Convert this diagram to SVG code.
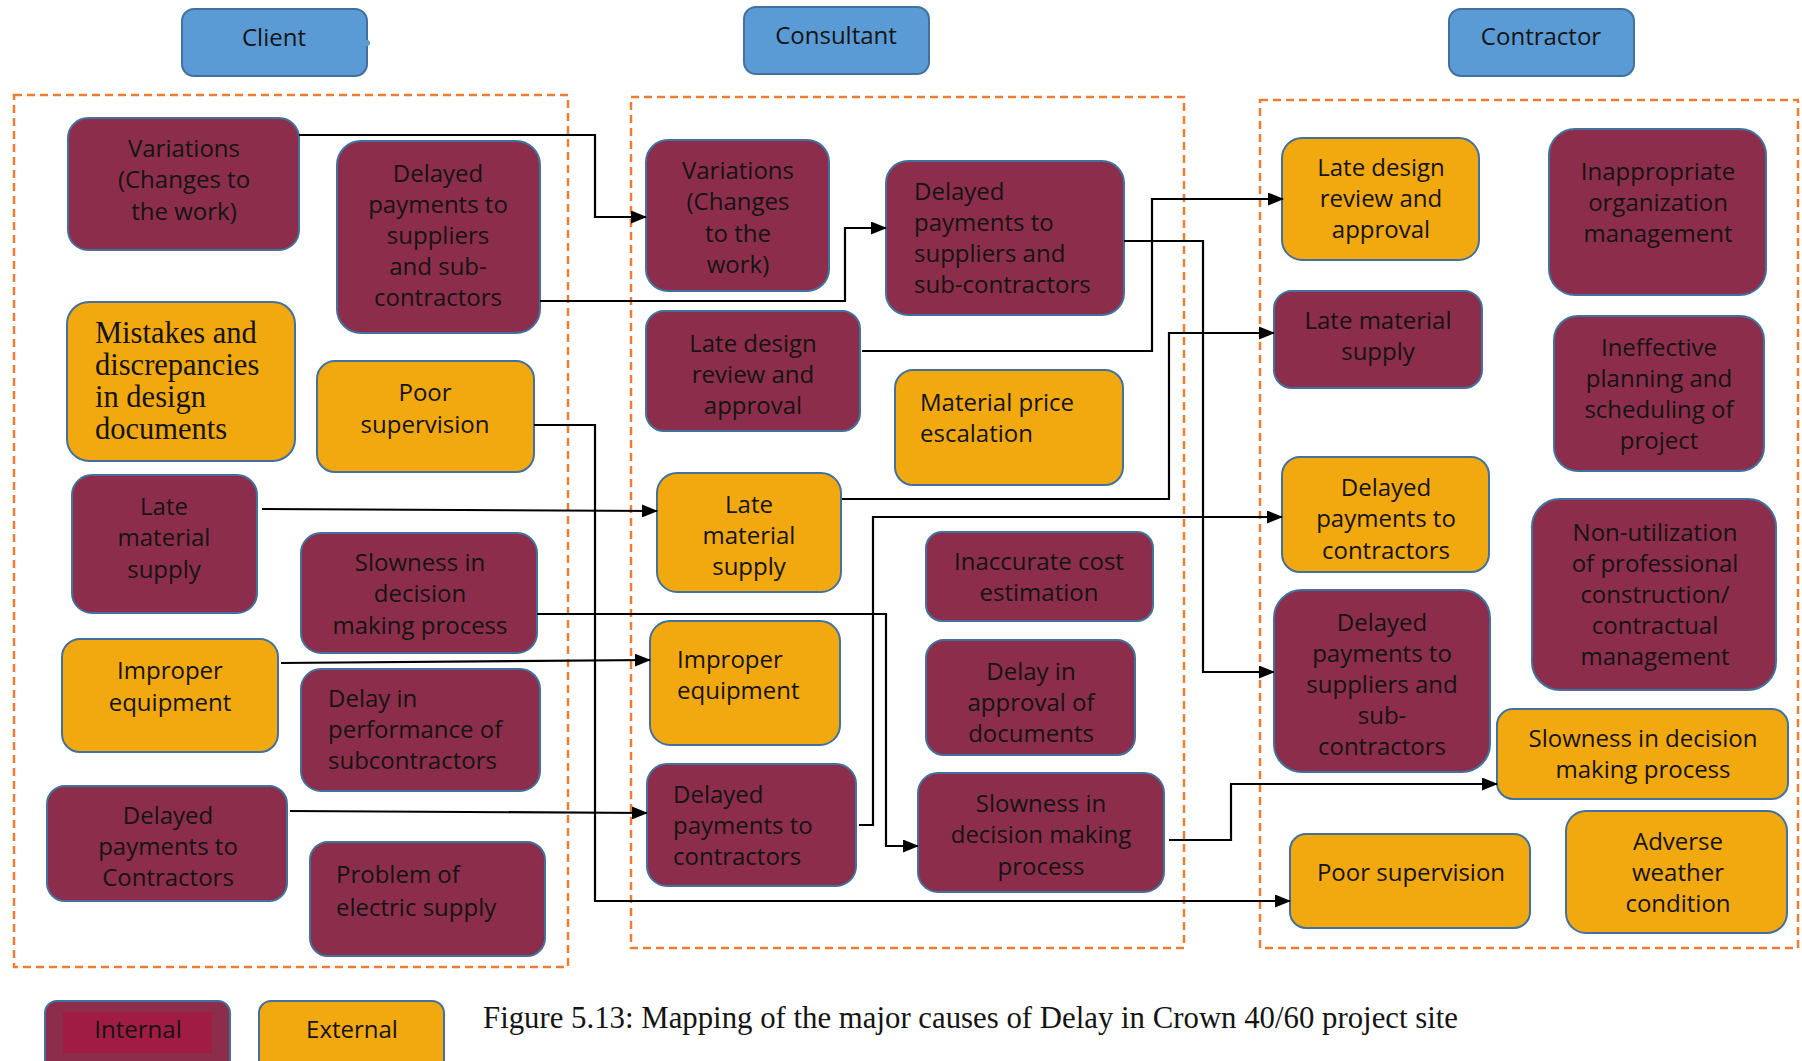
<svg xmlns="http://www.w3.org/2000/svg" width="1802" height="1061" viewBox="0 0 1802 1061">
  <style>
    .int { fill: #8C2D4B; stroke: #41719C; stroke-width: 2; }
    .ext { fill: #F2A80F; stroke: #41719C; stroke-width: 2; }
    .hdr { fill: #5B9BD5; stroke: #41719C; stroke-width: 2; }
    .zone { fill: none; stroke: #ED7D31; stroke-width: 2.5; stroke-dasharray: 8 5; }
    text { font-family: "Open Sans", "Liberation Sans", sans-serif; font-size: 24px; fill: #141414; }
    .c { text-anchor: middle; }
    .serif { font-family: "Liberation Serif", "Times New Roman", serif; }
    .big { font-size: 30.5px; }
    .cap { font-size: 30.8px; }
    .link { fill: none; stroke: #000; stroke-width: 2.2; }
  </style>
  <defs>
    <marker id="arrow" markerUnits="userSpaceOnUse" markerWidth="16" markerHeight="13" refX="15" refY="6.5" orient="auto">
      <path d="M0,0 L16,6.5 L0,13 z" fill="#000"/>
    </marker>
  </defs>

  <rect width="1802" height="1061" fill="#fff"/>

  <!-- party headers -->
  <g id="hdr-client">
    <rect class="hdr" x="182" y="9" width="185" height="67" rx="12"/>
    <circle cx="367" cy="43" r="3" fill="#5B9BD5"/>
    <text class="c" x="274" y="46">Client</text>
  </g>
  <g id="hdr-consultant">
    <rect class="hdr" x="744" y="7" width="185" height="67" rx="12"/>
    <text class="c" x="836" y="44">Consultant</text>
  </g>
  <g id="hdr-contractor">
    <rect class="hdr" x="1449" y="9" width="185" height="67" rx="12"/>
    <text class="c" x="1541" y="45">Contractor</text>
  </g>

  <!-- dashed groupings -->
  <g id="zones">
    <rect class="zone" x="14" y="95" width="554" height="872"/>
    <rect class="zone" x="631" y="97" width="553" height="851"/>
    <rect class="zone" x="1260" y="100" width="538" height="848"/>
  </g>

  <!-- client causes -->
  <g id="cl-variations">
    <rect class="int" x="68" y="118" width="231" height="132" rx="20"/>
    <text class="c"><tspan x="184" y="157">Variations</tspan><tspan x="184" y="188">(Changes to</tspan><tspan x="184" y="220">the work)</tspan></text>
  </g>
  <g id="cl-delayed-suppliers">
    <rect class="int" x="337" y="141" width="203" height="192" rx="24"/>
    <text class="c"><tspan x="438" y="182">Delayed</tspan><tspan x="438" y="213">payments to</tspan><tspan x="438" y="244">suppliers</tspan><tspan x="438" y="275">and sub-</tspan><tspan x="438" y="306">contractors</tspan></text>
  </g>
  <g id="cl-mistakes">
    <rect class="ext" x="67" y="302" width="228" height="159" rx="22"/>
    <text class="serif big"><tspan x="95" y="343">Mistakes and</tspan><tspan x="95" y="375">discrepancies</tspan><tspan x="95" y="407">in design</tspan><tspan x="95" y="439">documents</tspan></text>
  </g>
  <g id="cl-poor-supervision">
    <rect class="ext" x="317" y="361" width="217" height="111" rx="18"/>
    <text class="c"><tspan x="425" y="401">Poor</tspan><tspan x="425" y="433">supervision</tspan></text>
  </g>
  <g id="cl-late-material">
    <rect class="int" x="72" y="475" width="185" height="138" rx="20"/>
    <text class="c"><tspan x="164" y="515">Late</tspan><tspan x="164" y="546">material</tspan><tspan x="164" y="578">supply</tspan></text>
  </g>
  <g id="cl-slowness">
    <rect class="int" x="301" y="533" width="236" height="120" rx="20"/>
    <text class="c"><tspan x="420" y="571">Slowness in</tspan><tspan x="420" y="602">decision</tspan><tspan x="420" y="634">making process</tspan></text>
  </g>
  <g id="cl-improper-equipment">
    <rect class="ext" x="62" y="639" width="216" height="113" rx="18"/>
    <text class="c"><tspan x="170" y="679">Improper</tspan><tspan x="170" y="711">equipment</tspan></text>
  </g>
  <g id="cl-subcontractors">
    <rect class="int" x="301" y="669" width="239" height="122" rx="20"/>
    <text><tspan x="328" y="707">Delay in</tspan><tspan x="328" y="738">performance of</tspan><tspan x="328" y="769">subcontractors</tspan></text>
  </g>
  <g id="cl-delayed-contractors">
    <rect class="int" x="47" y="786" width="240" height="115" rx="18"/>
    <text class="c"><tspan x="168" y="824">Delayed</tspan><tspan x="168" y="855">payments to</tspan><tspan x="168" y="886">Contractors</tspan></text>
  </g>
  <g id="cl-electric">
    <rect class="int" x="310" y="842" width="235" height="114" rx="18"/>
    <text><tspan x="336" y="883">Problem of</tspan><tspan x="336" y="916">electric supply</tspan></text>
  </g>

  <!-- consultant causes -->
  <g id="co-variations">
    <rect class="int" x="646" y="140" width="183" height="151" rx="22"/>
    <text class="c"><tspan x="738" y="179">Variations</tspan><tspan x="738" y="210">(Changes</tspan><tspan x="738" y="242">to the</tspan><tspan x="738" y="273">work)</tspan></text>
  </g>
  <g id="co-delayed-suppliers">
    <rect class="int" x="886" y="161" width="238" height="154" rx="22"/>
    <text><tspan x="914" y="200">Delayed</tspan><tspan x="914" y="231">payments to</tspan><tspan x="914" y="262">suppliers and</tspan><tspan x="914" y="293">sub-contractors</tspan></text>
  </g>
  <g id="co-late-design">
    <rect class="int" x="646" y="311" width="214" height="120" rx="18"/>
    <text class="c"><tspan x="753" y="352">Late design</tspan><tspan x="753" y="383">review and</tspan><tspan x="753" y="414">approval</tspan></text>
  </g>
  <g id="co-price-escalation">
    <rect class="ext" x="895" y="370" width="228" height="115" rx="18"/>
    <text><tspan x="920" y="411">Material price</tspan><tspan x="920" y="442">escalation</tspan></text>
  </g>
  <g id="co-late-material">
    <rect class="ext" x="657" y="473" width="184" height="119" rx="20"/>
    <text class="c"><tspan x="749" y="513">Late</tspan><tspan x="749" y="544">material</tspan><tspan x="749" y="575">supply</tspan></text>
  </g>
  <g id="co-cost-estimation">
    <rect class="int" x="926" y="532" width="227" height="89" rx="16"/>
    <text class="c"><tspan x="1039" y="570">Inaccurate cost</tspan><tspan x="1039" y="601">estimation</tspan></text>
  </g>
  <g id="co-improper-equipment">
    <rect class="ext" x="650" y="621" width="190" height="124" rx="20"/>
    <text><tspan x="677" y="668">Improper</tspan><tspan x="677" y="699">equipment</tspan></text>
  </g>
  <g id="co-approval-documents">
    <rect class="int" x="926" y="640" width="209" height="115" rx="18"/>
    <text class="c"><tspan x="1031" y="680">Delay in</tspan><tspan x="1031" y="711">approval of</tspan><tspan x="1031" y="742">documents</tspan></text>
  </g>
  <g id="co-delayed-contractors">
    <rect class="int" x="647" y="764" width="209" height="122" rx="20"/>
    <text><tspan x="673" y="803">Delayed</tspan><tspan x="673" y="834">payments to</tspan><tspan x="673" y="865">contractors</tspan></text>
  </g>
  <g id="co-slowness">
    <rect class="int" x="918" y="773" width="246" height="119" rx="20"/>
    <text class="c"><tspan x="1041" y="812">Slowness in</tspan><tspan x="1041" y="843">decision making</tspan><tspan x="1041" y="875">process</tspan></text>
  </g>

  <!-- contractor causes -->
  <g id="ct-late-design">
    <rect class="ext" x="1282" y="138" width="197" height="122" rx="20"/>
    <text class="c"><tspan x="1381" y="176">Late design</tspan><tspan x="1381" y="207">review and</tspan><tspan x="1381" y="238">approval</tspan></text>
  </g>
  <g id="ct-organization">
    <rect class="int" x="1549" y="129" width="217" height="166" rx="26"/>
    <text class="c"><tspan x="1658" y="180">Inappropriate</tspan><tspan x="1658" y="211">organization</tspan><tspan x="1658" y="242">management</tspan></text>
  </g>
  <g id="ct-late-material">
    <rect class="int" x="1274" y="291" width="208" height="97" rx="18"/>
    <text class="c"><tspan x="1378" y="329">Late material</tspan><tspan x="1378" y="360">supply</tspan></text>
  </g>
  <g id="ct-planning">
    <rect class="int" x="1554" y="316" width="210" height="155" rx="24"/>
    <text class="c"><tspan x="1659" y="356">Ineffective</tspan><tspan x="1659" y="387">planning and</tspan><tspan x="1659" y="418">scheduling of</tspan><tspan x="1659" y="449">project</tspan></text>
  </g>
  <g id="ct-delayed-contractors">
    <rect class="ext" x="1282" y="457" width="207" height="115" rx="18"/>
    <text class="c"><tspan x="1386" y="496">Delayed</tspan><tspan x="1386" y="527">payments to</tspan><tspan x="1386" y="559">contractors</tspan></text>
  </g>
  <g id="ct-non-utilization">
    <rect class="int" x="1532" y="499" width="244" height="191" rx="28"/>
    <text class="c"><tspan x="1655" y="541">Non-utilization</tspan><tspan x="1655" y="572">of professional</tspan><tspan x="1655" y="603">construction/</tspan><tspan x="1655" y="634">contractual</tspan><tspan x="1655" y="665">management</tspan></text>
  </g>
  <g id="ct-delayed-suppliers">
    <rect class="int" x="1274" y="590" width="216" height="182" rx="28"/>
    <text class="c"><tspan x="1382" y="631">Delayed</tspan><tspan x="1382" y="662">payments to</tspan><tspan x="1382" y="693">suppliers and</tspan><tspan x="1382" y="724">sub-</tspan><tspan x="1382" y="755">contractors</tspan></text>
  </g>
  <g id="ct-slowness">
    <rect class="ext" x="1497" y="709" width="291" height="90" rx="16"/>
    <text class="c"><tspan x="1643" y="747">Slowness in decision</tspan><tspan x="1643" y="778">making process</tspan></text>
  </g>
  <g id="ct-poor-supervision">
    <rect class="ext" x="1290" y="834" width="240" height="94" rx="16"/>
    <text class="c"><tspan x="1411" y="881">Poor supervision</tspan></text>
  </g>
  <g id="ct-weather">
    <rect class="ext" x="1566" y="811" width="221" height="122" rx="20"/>
    <text class="c"><tspan x="1678" y="850">Adverse</tspan><tspan x="1678" y="881">weather</tspan><tspan x="1678" y="912">condition</tspan></text>
  </g>

  <!-- connectors -->
  <g id="connectors">
    <path class="link" d="M299,135 H595 V217 H646" marker-end="url(#arrow)"/>
    <path class="link" d="M540,301 H845 V228 H886" marker-end="url(#arrow)"/>
    <path class="link" d="M862,351 H1152 V199 H1283" marker-end="url(#arrow)"/>
    <path class="link" d="M1124,241 H1203 V672 H1274" marker-end="url(#arrow)"/>
    <path class="link" d="M842,499 H1169 V333 H1274" marker-end="url(#arrow)"/>
    <path class="link" d="M262,509 L657,511" marker-end="url(#arrow)"/>
    <path class="link" d="M534,425 H595 V901 H1290" marker-end="url(#arrow)"/>
    <path class="link" d="M537,614 H886 V846 H918" marker-end="url(#arrow)"/>
    <path class="link" d="M281,663 L650,660" marker-end="url(#arrow)"/>
    <path class="link" d="M290,811 L647,813" marker-end="url(#arrow)"/>
    <path class="link" d="M859,825 H873 V517 H1282" marker-end="url(#arrow)"/>
    <path class="link" d="M1169,840 H1231 V784 H1497" marker-end="url(#arrow)"/>
  </g>

  <!-- legend -->
  <g id="legend-internal">
    <rect class="int" x="45" y="1001" width="185" height="80" rx="12"/>
    <rect x="63" y="1012" width="149" height="41" fill="#A01C42"/>
    <text class="c" x="138" y="1038">Internal</text>
  </g>
  <g id="legend-external">
    <rect class="ext" x="259" y="1001" width="185" height="80" rx="12"/>
    <text class="c" x="352" y="1038">External</text>
  </g>

  <text class="serif cap" x="483" y="1028">Figure 5.13: Mapping of the major causes of Delay in Crown 40/60 project site</text>
</svg>
